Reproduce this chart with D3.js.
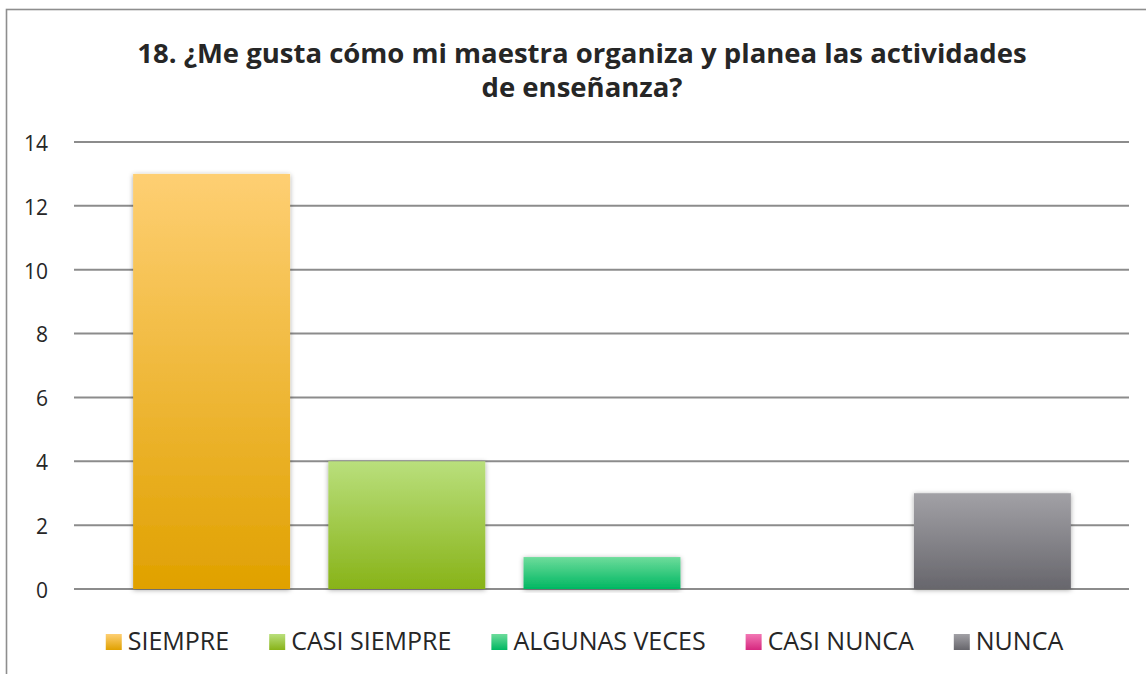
<html>
<head>
  <meta charset="utf-8">
  <title>Pregunta 18</title>
  <script src="https://d3js.org/d3.v7.min.js"></script>
  <style>
    body { margin: 0; background: #fff; }
    text { font-family: "Open Sans", "DejaVu Sans", sans-serif; fill: #262626; }
  </style>
</head>
<body>
  <div id="my_dataviz"></div>
  <script>
  // data
  var categories = ["SIEMPRE", "CASI SIEMPRE", "ALGUNAS VECES", "CASI NUNCA", "NUNCA"];
  var values = [13, 4, 1, 0, 3];
  var yTicks = [0, 2, 4, 6, 8, 10, 12, 14];
  var titleLines = ["18. ¿Me gusta cómo mi maestra organiza y planea las actividades", "de enseñanza?"];
  var topColors = ["#fecf73", "#b9df7c", "#6ddc9b", "#f277b4", "#a2a1a6"];
  var bottomColors = ["#e0a100", "#88b318", "#00b762", "#d6287f", "#67666c"];

  var W = 1146, H = 674;
  var svg = d3.select("#my_dataviz")
    .append("svg")
      .attr("width", W)
      .attr("height", H);

  var defs = svg.append("defs");
  categories.forEach(function(c, i) {
    var g = defs.append("linearGradient")
      .attr("id", "grad" + i)
      .attr("x1", 0).attr("y1", 0).attr("x2", 0).attr("y2", 1);
    g.append("stop").attr("offset", "0%").attr("stop-color", topColors[i]);
    g.append("stop").attr("offset", "100%").attr("stop-color", bottomColors[i]);
  });
  var f = defs.append("filter").attr("id", "shadow")
    .attr("x", "-10%").attr("y", "-10%").attr("width", "120%").attr("height", "120%");
  f.append("feDropShadow").attr("dx", 0).attr("dy", 1).attr("stdDeviation", 2.5)
    .attr("flood-color", "#000").attr("flood-opacity", 0.35);

  // outer border
  svg.append("rect")
    .attr("x", 6.5).attr("y", 9.5)
    .attr("width", W + 20).attr("height", H + 20)
    .attr("fill", "none")
    .attr("stroke", "#8e8e8e")
    .attr("stroke-width", 1.6);

  // title
  svg.append("text")
    .attr("text-anchor", "middle")
    .attr("x", 582)
    .attr("y", 63)
    .style("font-size", "27.5px")
    .style("font-weight", "bold")
    .selectAll("tspan")
    .data(titleLines)
    .enter()
    .append("tspan")
      .attr("x", 582)
      .attr("dy", function(d, i) { return i === 0 ? 0 : 34; })
      .text(function(d) { return d; });

  // scales
  var y = d3.scaleLinear().domain([0, 14]).range([589, 142]);
  var x = d3.scaleBand().domain(categories).range([114, 1090])
    .paddingInner(0.196).paddingOuter(0.098);

  // gridlines
  svg.append("g")
    .selectAll("line")
    .data(yTicks)
    .enter()
    .append("line")
      .attr("x1", 74).attr("x2", 1129)
      .attr("y1", function(d) { return y(d); })
      .attr("y2", function(d) { return y(d); })
      .attr("stroke", "#8c8c8c")
      .attr("stroke-width", 2);

  // y axis labels
  var yAxis = svg.append("g")
    .attr("transform", "translate(48,0)")
    .call(d3.axisLeft(y).tickValues(yTicks).tickSize(0).tickPadding(0));
  yAxis.select(".domain").remove();
  yAxis.selectAll("text")
    .style("font-size", "21px")
    .style("font-family", "\"Open Sans\", sans-serif")
    .attr("fill", "#262626")
    .attr("dy", "0.4em");

  // bars
  svg.append("g")
    .selectAll("rect")
    .data(values)
    .enter()
    .append("rect")
      .attr("x", function(d, i) { return x(categories[i]); })
      .attr("y", function(d) { return y(d); })
      .attr("width", x.bandwidth())
      .attr("height", function(d) { return y(0) - y(d); })
      .attr("fill", function(d, i) { return "url(#grad" + i + ")"; })
      .attr("filter", "url(#shadow)");

  // legend
  var legend = svg.append("g");
  var items = legend.selectAll("g")
    .data(categories)
    .enter()
    .append("g");
  items.append("rect")
    .attr("width", 16).attr("height", 16)
    .attr("y", 634)
    .attr("fill", function(d, i) { return "url(#grad" + i + ")"; });
  items.append("text")
    .attr("x", 22)
    .attr("y", 650)
    .style("font-size", "25px")
    .text(function(d) { return d; });
  var gap = 40, pos = 0, offsets = [];
  items.each(function() {
    offsets.push(pos);
    pos += 22 + this.querySelector("text").getComputedTextLength() + gap;
  });
  var total = pos - gap;
  var start = 584.5 - total / 2;
  items.attr("transform", function(d, i) { return "translate(" + (start + offsets[i]) + ",0)"; });
  </script>
</body>
</html>
